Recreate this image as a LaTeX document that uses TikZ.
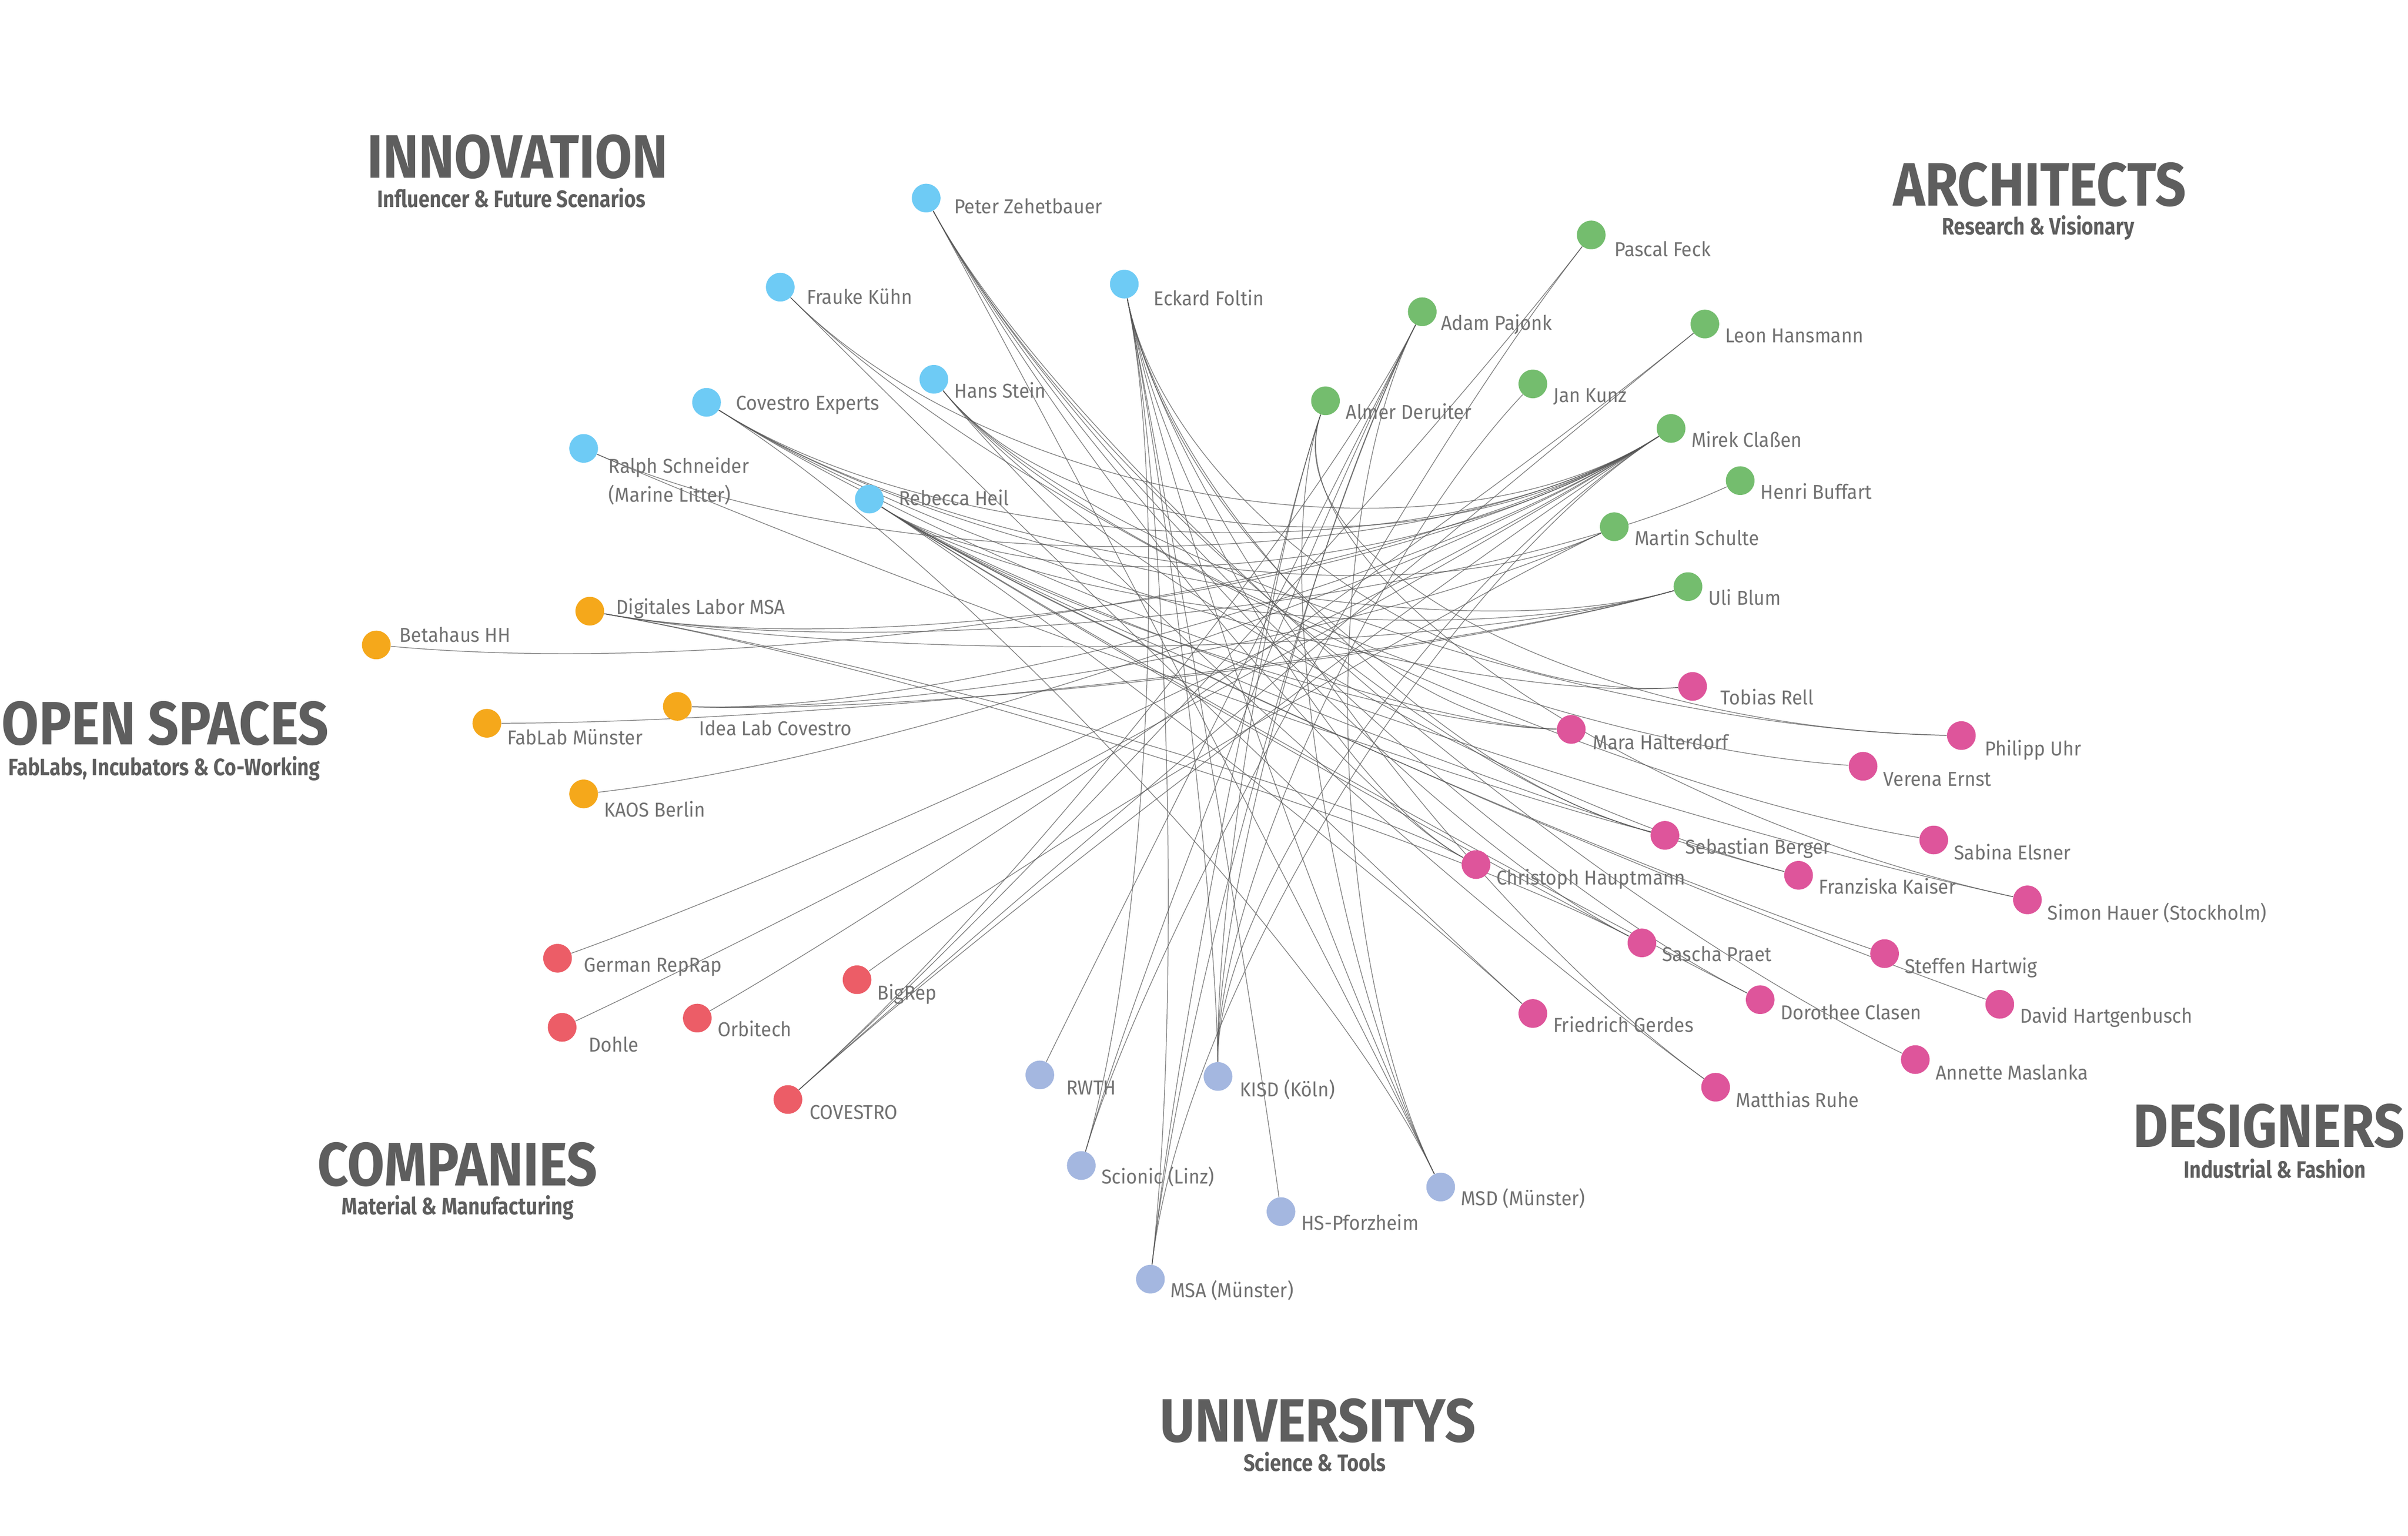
\documentclass[tikz,border=0pt]{standalone}
\usepackage{fontspec}
\setmainfont{Fira Sans}[FakeStretch=0.94]
\newfontfamily\headfont{Fira Sans}[FakeStretch=0.88]
\newfontfamily\subfont{Fira Sans}[FakeStretch=0.84]
\usetikzlibrary{calc,backgrounds}

\definecolor{innov}{HTML}{6ECBF5}
\definecolor{archi}{HTML}{74BD6E}
\definecolor{openspace}{HTML}{F5A81B}
\definecolor{company}{HTML}{EC5D67}
\definecolor{uni}{HTML}{A4B7E0}
\definecolor{design}{HTML}{DE559B}
\definecolor{headgray}{HTML}{5E5E5E}
\definecolor{labelgray}{HTML}{727272}
\definecolor{edgegray}{HTML}{555555}

\tikzset{
    dot/.style={circle,fill=#1,minimum size=0.56cm,inner sep=0pt},
    lbl/.style={anchor=base west,inner sep=0pt,text=labelgray,font=\fontsize{11.2}{13}\selectfont},
    head/.style={anchor=base,inner sep=0pt,text=headgray,font=\headfont\bfseries\fontsize{34}{36}\selectfont},
    subhead/.style={anchor=base,inner sep=0pt,text=headgray,font=\subfont\bfseries\fontsize{13.2}{14}\selectfont},
    link/.style={draw=edgegray,line width=0.4pt,opacity=0.75,
        to path={.. controls ($(\tikztostart)!0.5!(hub)$) and ($(\tikztotarget)!0.5!(hub)$) .. (\tikztotarget)}}
}

\begin{document}
\begin{tikzpicture}[x=0.03cm,y=-0.03cm]
    \useasboundingbox (0,0) rectangle (1567.8,1000);
    \coordinate (hub) at (790,470);

    % group titles
    \node[head] (innovation) at (337,116) {INNOVATION};
    \node[subhead] (innovation-sub) at (333,135) {Influencer \& Future Scenarios};
    \node[head] (architects) at (1328,134) {ARCHITECTS};
    \node[subhead] (architects-sub) at (1327,153) {Research \& Visionary};
    \node[head,anchor=base west] (openspaces) at (1,485) {OPEN SPACES};
    \node[subhead] (openspaces-sub) at (107,505) {FabLabs, Incubators \& Co-Working};
    \node[head] (companies) at (298,772) {COMPANIES};
    \node[subhead] (companies-sub) at (298,791) {Material \& Manufacturing};
    \node[head] (universitys) at (858,939) {UNIVERSITYS};
    \node[subhead] (universitys-sub) at (856,958) {Science \& Tools};
    \node[head,anchor=base east] (designers) at (1566,747) {DESIGNERS};
    \node[subhead] (designers-sub) at (1481,767) {Industrial \& Fashion};

    % innovation
    \node[dot=innov] (pz) at (603,129) {};
    \node[dot=innov] (fk) at (508,187) {};
    \node[dot=innov] (ef) at (732,185) {};
    \node[dot=innov] (hs) at (608,247) {};
    \node[dot=innov] (ce) at (460,262) {};
    \node[dot=innov] (rs) at (380,292) {};
    \node[dot=innov] (rh) at (566,325) {};
    \node[lbl] (pz-t) at ($(pz)+(18,10)$) {Peter Zehetbauer};
    \node[lbl] (fk-t) at ($(fk)+(17,11)$) {Frauke Kühn};
    \node[lbl] (ef-t) at ($(ef)+(19,14)$) {Eckard Foltin};
    \node[lbl] (hs-t) at ($(hs)+(13,12)$) {Hans Stein};
    \node[lbl] (ce-t) at ($(ce)+(19,5)$) {Covestro Experts};
    \node[lbl] (rs-t) at ($(rs)+(16,16)$) {Ralph Schneider};
    \node[lbl] (rs-t2) at ($(rs)+(16,35)$) {(Marine Litter)};
    \node[lbl] (rh-t) at ($(rh)+(19,4)$) {Rebecca Heil};

    % architects
    \node[dot=archi] (pf) at (1036,153) {};
    \node[dot=archi] (ap) at (926,203) {};
    \node[dot=archi] (lh) at (1110,211) {};
    \node[dot=archi] (jk) at (998,250) {};
    \node[dot=archi] (ad) at (863,261) {};
    \node[dot=archi] (mc) at (1088,279) {};
    \node[dot=archi] (hb) at (1133,313) {};
    \node[dot=archi] (ms) at (1051,343) {};
    \node[dot=archi] (ub) at (1099,382) {};
    \node[lbl] (pf-t) at ($(pf)+(15,14)$) {Pascal Feck};
    \node[lbl] (ap-t) at ($(ap)+(12,12)$) {Adam Pajonk};
    \node[lbl] (lh-t) at ($(lh)+(13,12)$) {Leon Hansmann};
    \node[lbl] (jk-t) at ($(jk)+(13,12)$) {Jan Kunz};
    \node[lbl] (ad-t) at ($(ad)+(13,12)$) {Almer Deruiter};
    \node[lbl] (mc-t) at ($(mc)+(13,12)$) {Mirek Claßen};
    \node[lbl] (hb-t) at ($(hb)+(13,12)$) {Henri Buffart};
    \node[lbl] (ms-t) at ($(ms)+(13,12)$) {Martin Schulte};
    \node[lbl] (ub-t) at ($(ub)+(13,12)$) {Uli Blum};

    % open spaces
    \node[dot=openspace] (dl) at (384,398) {};
    \node[dot=openspace] (bh) at (245,420) {};
    \node[dot=openspace] (il) at (441,460) {};
    \node[dot=openspace] (fm) at (317,471) {};
    \node[dot=openspace] (kb) at (380,517) {};
    \node[lbl] (dl-t) at ($(dl)+(17,2)$) {Digitales Labor MSA};
    \node[lbl] (bh-t) at ($(bh)+(15,-2)$) {Betahaus HH};
    \node[lbl] (il-t) at ($(il)+(14,19)$) {Idea Lab Covestro};
    \node[lbl] (fm-t) at ($(fm)+(13,14)$) {FabLab Münster};
    \node[lbl] (kb-t) at ($(kb)+(13,15)$) {KAOS Berlin};

    % companies
    \node[dot=company] (gr) at (363,624) {};
    \node[dot=company] (dh) at (366,669) {};
    \node[dot=company] (ob) at (454,663) {};
    \node[dot=company] (br) at (558,638) {};
    \node[dot=company] (cv) at (513,716) {};
    \node[lbl] (gr-t) at ($(gr)+(17,9)$) {German RepRap};
    \node[lbl] (dh-t) at ($(dh)+(17,16)$) {Dohle};
    \node[lbl] (ob-t) at ($(ob)+(13,12)$) {Orbitech};
    \node[lbl] (br-t) at ($(br)+(13,13)$) {BigRep};
    \node[lbl] (cv-t) at ($(cv)+(14,13)$) {COVESTRO};

    % universitys
    \node[dot=uni] (rw) at (677,700) {};
    \node[dot=uni] (ks) at (793,701) {};
    \node[dot=uni] (sc) at (704,759) {};
    \node[dot=uni] (hp) at (834,789) {};
    \node[dot=uni] (md) at (938,773) {};
    \node[dot=uni] (ma) at (749,833) {};
    \node[lbl] (rw-t) at ($(rw)+(17,13)$) {RWTH};
    \node[lbl] (ks-t) at ($(ks)+(14,13)$) {KISD (Köln)};
    \node[lbl] (sc-t) at ($(sc)+(13,12)$) {Scionic (Linz)};
    \node[lbl] (hp-t) at ($(hp)+(13,12)$) {HS-Pforzheim};
    \node[lbl] (md-t) at ($(md)+(13,12)$) {MSD (Münster)};
    \node[lbl] (ma-t) at ($(ma)+(13,12)$) {MSA (Münster)};

    % designers
    \node[dot=design] (tr) at (1102,447) {};
    \node[dot=design] (pu) at (1277,479) {};
    \node[dot=design] (mh) at (1023,475) {};
    \node[dot=design] (ve) at (1213,499) {};
    \node[dot=design] (sb) at (1084,544) {};
    \node[dot=design] (se) at (1259,547) {};
    \node[dot=design] (ch) at (961,563) {};
    \node[dot=design] (fz) at (1171,570) {};
    \node[dot=design] (sh) at (1320,586) {};
    \node[dot=design] (st) at (1227,621) {};
    \node[dot=design] (sp) at (1069,614) {};
    \node[dot=design] (dv) at (1302,654) {};
    \node[dot=design] (dc) at (1146,651) {};
    \node[dot=design] (fg) at (998,660) {};
    \node[dot=design] (am) at (1247,690) {};
    \node[dot=design] (mr) at (1117,708) {};
    \node[lbl] (tr-t) at ($(tr)+(18,12)$) {Tobias Rell};
    \node[lbl] (pu-t) at ($(pu)+(15,13)$) {Philipp Uhr};
    \node[lbl] (mh-t) at ($(mh)+(14,13)$) {Mara Halterdorf};
    \node[lbl] (ve-t) at ($(ve)+(13,13)$) {Verena Ernst};
    \node[lbl] (sb-t) at ($(sb)+(13,12)$) {Sebastian Berger};
    \node[lbl] (se-t) at ($(se)+(13,13)$) {Sabina Elsner};
    \node[lbl] (ch-t) at ($(ch)+(13,13)$) {Christoph Hauptmann};
    \node[lbl] (fz-t) at ($(fz)+(13,12)$) {Franziska Kaiser};
    \node[lbl] (sh-t) at ($(sh)+(13,13)$) {Simon Hauer (Stockholm)};
    \node[lbl] (st-t) at ($(st)+(13,13)$) {Steffen Hartwig};
    \node[lbl] (sp-t) at ($(sp)+(13,12)$) {Sascha Praet};
    \node[lbl] (dv-t) at ($(dv)+(13,12)$) {David Hartgenbusch};
    \node[lbl] (dc-t) at ($(dc)+(13,13)$) {Dorothee Clasen};
    \node[lbl] (fg-t) at ($(fg)+(13,12)$) {Friedrich Gerdes};
    \node[lbl] (am-t) at ($(am)+(13,13)$) {Annette Maslanka};
    \node[lbl] (mr-t) at ($(mr)+(13,13)$) {Matthias Ruhe};

    % connections
    \begin{scope}[on background layer]
    \foreach \a/\b in {pz/sp,pz/dc,pz/am,pz/sb,pz/md,pz/ch,
        fk/fg,fk/se,
        ef/ma,ef/ks,ef/md,ef/sc,ef/hp,ef/sb,ef/mh,ef/tr,ef/ch,ef/mr,
        hs/fz,hs/ve,hs/pu,hs/mr,
        ce/ub,ce/ms,ce/mh,ce/tr,
        rs/mc,rs/sb,
        rh/sp,rh/dc,rh/sh,rh/st,rh/dv,rh/mh,rh/fz,rh/fg,rh/ub,rh/mc,
        pf/cv,pf/sc,
        ap/md,ap/ks,ap/ma,ap/sc,ap/rw,ap/cv,
        lh/cv,lh/ob,
        jk/ks,
        ad/md,ad/ks,ad/ma,ad/pu,ad/sh,
        mc/dl,mc/il,mc/gr,mc/dh,mc/cv,mc/kb,mc/hs,mc/ce,mc/bh,mc/ks,mc/ma,mc/fk,
        hb/dl,
        ms/br,ms/il,
        ub/il,ub/dl,ub/fm,
        dl/ch,dl/sp,
        md/ce}
        \draw[link] (\a) to (\b);
    \end{scope}
\end{tikzpicture}
\end{document}
